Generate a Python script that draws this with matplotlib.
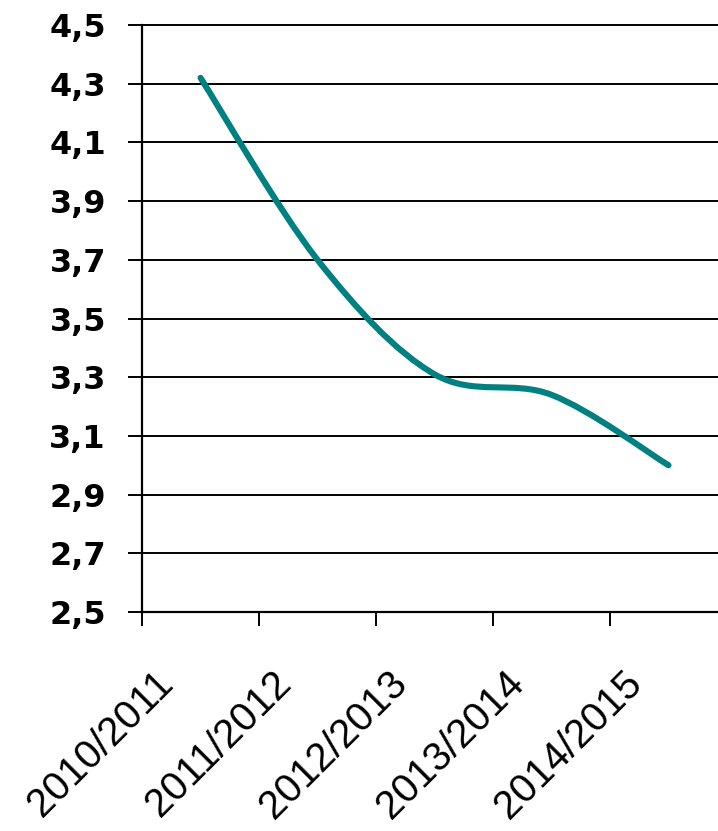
import matplotlib
matplotlib.use('Agg')

import numpy as np
from matplotlib import pyplot as plt
from matplotlib.path import Path
from matplotlib.patches import PathPatch
from matplotlib.transforms import ScaledTranslation


# Datos
cursos = ['2010/2011', '2011/2012', '2012/2013', '2013/2014', '2014/2015']
valores = [4.32, 3.70, 3.31, 3.24, 3.00]
y_ticks = [2.5, 2.7, 2.9, 3.1, 3.3, 3.5, 3.7, 3.9, 4.1, 4.3, 4.5]

color_linea = '#008080'


# Curva suavizada tipo Excel (bezier entre los puntos)
def curva_suave(xs, ys):
    pts = np.column_stack([xs, ys])
    n = len(pts)
    verts = [pts[0]]
    codes = [Path.MOVETO]
    for i in range(n - 1):
        p_prev = pts[max(i - 1, 0)]
        p0 = pts[i]
        p1 = pts[i + 1]
        p_next = pts[min(i + 2, n - 1)]
        c1 = p0 + (p1 - p_prev) / 6.0
        c2 = p1 - (p_next - p0) / 6.0
        verts += [c1, c2, p1]
        codes += [Path.CURVE4] * 3
    return Path(verts, codes)


fig = plt.figure(figsize=(7.18, 8.31), dpi=100)
ax = fig.add_axes([142 / 718, (831 - 612) / 831, 585 / 718, 587 / 831])

x = np.arange(len(cursos))
patch = PathPatch(curva_suave(x, valores), fill=False, edgecolor=color_linea,
                  linewidth=4.4, capstyle='round', joinstyle='round', zorder=3)
ax.add_patch(patch)

ax.set_xlim(-0.5, len(cursos) - 0.5)
ax.set_ylim(2.5, 4.5)

# Rejilla horizontal
for v in y_ticks:
    ax.axhline(v, color='black', linewidth=1.4, zorder=1, clip_on=False)

for s in ['top', 'right']:
    ax.spines[s].set_visible(False)
for s in ['left', 'bottom']:
    ax.spines[s].set_linewidth(1.6)
    ax.spines[s].set_zorder(2)

# Eje y
ax.set_yticks(y_ticks)
ax.set_yticklabels([('%.1f' % v).replace('.', ',') for v in y_ticks],
                   fontfamily='DejaVu Sans', fontweight='bold', fontsize=23)
ax.tick_params(axis='y', length=10, width=1.4, pad=16)

# Eje x: marcas entre categorias, etiquetas giradas
ax.set_xticks(np.arange(len(cursos) + 1) - 0.5, minor=True)
ax.tick_params(axis='x', which='minor', length=10, width=1.4, direction='out')
ax.set_xticks(x)
ax.set_xticklabels(cursos, rotation=45, ha='right', va='center',
                   rotation_mode='anchor', fontfamily='Liberation Sans', fontsize=29)
ax.tick_params(axis='x', which='major', length=0, pad=47)
desplaza = ScaledTranslation(-33 / 100, 0, fig.dpi_scale_trans)
for lab in ax.get_xticklabels():
    lab.set_transform(lab.get_transform() + desplaza)

fig.savefig('out.png', dpi=100)
